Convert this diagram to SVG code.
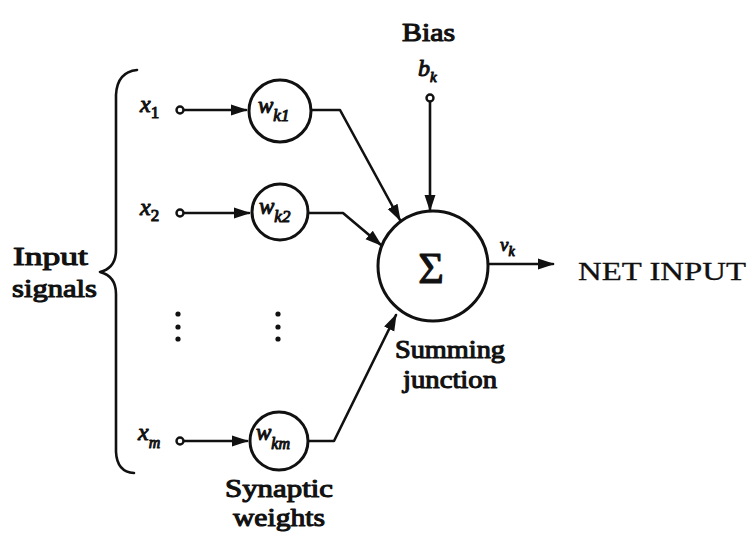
<svg xmlns="http://www.w3.org/2000/svg" width="748" height="535" viewBox="0 0 748 535">
<defs>
<style>
.ln{stroke:#111;stroke-width:2.6;fill:none;stroke-linecap:round;stroke-linejoin:round}
.nd{stroke:#111;stroke-width:3;fill:#fff}
.dot{stroke:#111;stroke-width:2.4;fill:#fff}
.lbl{font-family:"Liberation Serif","Times New Roman",serif;font-weight:normal;fill:#111;stroke:#111;stroke-width:1.1;stroke-linejoin:round}
.var{font-family:"Liberation Serif","Times New Roman",serif;font-style:italic;font-weight:normal;fill:#111;stroke:#111;stroke-width:1;stroke-linejoin:round}
.net{font-family:"Liberation Serif","Times New Roman",serif;fill:#111;stroke:#111;stroke-width:0.3}
</style>
<marker id="ah" viewBox="0 0 12 10" refX="11" refY="5" markerWidth="6.5" markerHeight="5.5" orient="auto" markerUnits="strokeWidth">
<path d="M0,1 L12,5 L0,9 Z" fill="#111"/>
</marker>
</defs>
<rect width="748" height="535" fill="#fff"/>

<g id="brace">
<path class="ln" d="M137,70 Q117,72 116,95 L116,250 Q116,268 100,272 Q116,276 116,294 L116,452 Q117,472 134,473" stroke-width="3"/>
</g>
<g id="input-label">
<text class="lbl" x="13" y="265" font-size="26" textLength="75" lengthAdjust="spacingAndGlyphs">Input</text>
<text class="lbl" x="12" y="297" font-size="26" textLength="85" lengthAdjust="spacingAndGlyphs">signals</text>
</g>

<g id="connectors">
<line class="ln" x1="184" y1="110" x2="246" y2="110" marker-end="url(#ah)"/>
<line class="ln" x1="184" y1="213" x2="249" y2="213" marker-end="url(#ah)"/>
<line class="ln" x1="184" y1="441" x2="247" y2="441" marker-end="url(#ah)"/>
<polyline class="ln" points="312,110 340,110 400,220" marker-end="url(#ah)"/>
<polyline class="ln" points="309,213 343,213 381,245" marker-end="url(#ah)"/>
<polyline class="ln" points="309,441 334,441 396,315" marker-end="url(#ah)"/>
<line class="ln" x1="430" y1="102" x2="430" y2="210" marker-end="url(#ah)"/>
<line class="ln" x1="488" y1="264" x2="553" y2="264" marker-end="url(#ah)"/>
</g>

<g id="x1">
<text class="var" x="140" y="112" font-size="24">x<tspan font-size="17" dy="6" font-style="normal">1</tspan></text>
<circle class="dot" cx="180" cy="110" r="3.5"/>
</g>
<g id="x2">
<text class="var" x="140" y="215" font-size="24">x<tspan font-size="17" dy="6" font-style="normal">2</tspan></text>
<circle class="dot" cx="180" cy="213" r="3.5"/>
</g>
<g id="xm">
<text class="var" x="138" y="440" font-size="24">x<tspan font-size="16" dy="8">m</tspan></text>
<circle class="dot" cx="180" cy="441" r="3.5"/>
</g>

<g id="wk1">
<circle class="nd" cx="280" cy="111" r="31"/>
<text class="var" x="258" y="113" font-size="23">w<tspan font-size="17" dy="8">k1</tspan></text>
</g>
<g id="wk2">
<circle class="nd" cx="280" cy="212" r="28"/>
<text class="var" x="259" y="214" font-size="23">w<tspan font-size="17" dy="8">k2</tspan></text>
</g>
<g id="wkm">
<circle class="nd" cx="279" cy="441" r="29"/>
<text class="var" x="256" y="440" font-size="23">w<tspan font-size="16" dy="9">km</tspan></text>
</g>

<g id="dots">
<circle cx="178" cy="314" r="2.6" fill="#111"/>
<circle cx="178" cy="327" r="2.6" fill="#111"/>
<circle cx="178" cy="339" r="2.6" fill="#111"/>
<circle cx="278" cy="314" r="2.6" fill="#111"/>
<circle cx="278" cy="327" r="2.6" fill="#111"/>
<circle cx="278" cy="339" r="2.6" fill="#111"/>
</g>

<g id="bias">
<text class="lbl" x="402" y="41" font-size="26" textLength="53" lengthAdjust="spacingAndGlyphs">Bias</text>
<text class="var" x="418" y="76" font-size="24">b<tspan font-size="15" dy="6">k</tspan></text>
<circle class="dot" cx="430" cy="98" r="3.5"/>
</g>

<g id="sum">
<circle class="nd" cx="433" cy="266" r="55"/>
<text class="lbl" x="431" y="283" font-size="44" text-anchor="middle" stroke-width="1.6">Σ</text>
<text class="lbl" x="395" y="358" font-size="26" textLength="110" lengthAdjust="spacingAndGlyphs">Summing</text>
<text class="lbl" x="403" y="388" font-size="26" textLength="94" lengthAdjust="spacingAndGlyphs">junction</text>
</g>

<g id="vk">
<text class="var" x="500" y="251" font-size="19">v<tspan font-size="14" dy="5">k</tspan></text>
</g>

<g id="net-input">
<text class="net" x="578" y="280" font-size="26" textLength="168" lengthAdjust="spacingAndGlyphs">NET INPUT</text>
</g>

<g id="synaptic">
<text class="lbl" x="225" y="497" font-size="26" textLength="108" lengthAdjust="spacingAndGlyphs">Synaptic</text>
<text class="lbl" x="233" y="526" font-size="26" textLength="92" lengthAdjust="spacingAndGlyphs">weights</text>
</g>
</svg>
